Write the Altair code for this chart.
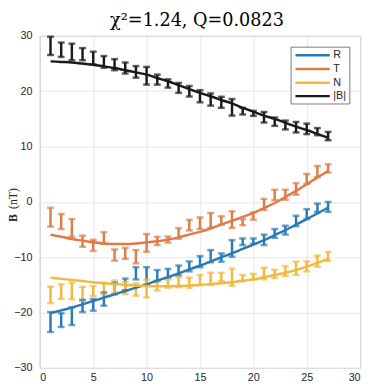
import altair as alt
import pandas as pd

x_pts = list(range(1, 28))

# measured values (centre) and half-widths of error bars
B_obs = [28.2, 27.5, 27.1, 26.7, 26.0, 25.3, 24.8, 24.2, 23.5, 22.8, 22.1, 21.4, 20.6, 20.0,
         19.1, 18.5, 18.0, 17.1, 16.4, 16.0, 15.3, 14.5, 13.9, 13.5, 13.2, 12.7, 11.9]
B_err = [1.65, 1.3, 1.5, 1.1, 1.15, 1.05, 1.0, 1.0, 1.05, 1.6, 0.9, 0.75, 0.9, 0.95,
         1.1, 1.1, 1.0, 1.5, 0.6, 0.45, 0.95, 0.75, 0.8, 0.95, 0.95, 0.65, 0.75]
T_obs = [-2.75, -3.55, -4.7, -7.1, -7.85, -6.5, -9.6, -9.3, -9.9, -7.4, -7.05, -6.8, -5.7, -4.2,
         -3.85, -3.35, -3.35, -3.2, -3.65, -2.55, -0.45, 1.25, 1.3, 2.35, 4.15, 5.5, 6.05]
T_err = [1.7, 1.35, 1.6, 1.0, 1.0, 1.05, 1.0, 1.0, 1.2, 1.6, 0.75, 0.55, 0.95, 0.95,
         1.05, 1.35, 0.75, 1.5, 0.55, 0.65, 1.0, 0.95, 0.9, 1.05, 0.9, 1.0, 0.75]
R_obs = [-21.7, -21.35, -20.65, -18.8, -18.6, -17.55, -15.65, -14.9, -12.9, -13.4, -13.3, -12.9, -12.4, -11.65,
         -10.8, -9.8, -10.05, -8.4, -7.2, -7.1, -6.85, -5.7, -5.1, -3.45, -2.2, -1.05, -0.9]
R_err = [1.8, 1.25, 1.6, 1.1, 1.05, 1.2, 1.05, 1.05, 1.1, 1.6, 1.0, 0.8, 0.9, 0.9,
         1.0, 1.1, 0.75, 1.5, 0.6, 0.5, 0.95, 0.8, 0.8, 0.95, 0.9, 0.75, 0.9]
N_obs = [-16.8, -16.2, -16.1, -16.6, -16.1, -15.65, -15.3, -15.55, -15.85, -15.65, -15.1, -14.75, -14.5, -14.6,
         -14.1, -13.9, -13.55, -13.6, -13.75, -13.5, -12.95, -13.0, -12.5, -12.0, -11.65, -10.7, -9.85]
N_err = [1.5, 1.3, 1.5, 1.25, 0.9, 1.05, 1.1, 1.1, 1.1, 1.6, 0.9, 0.75, 0.9, 0.9,
         0.9, 1.1, 0.75, 1.55, 0.55, 0.5, 1.05, 0.75, 0.9, 1.2, 0.9, 1.0, 0.8]

# fitted model curves read at each x
B_fit = [25.4, 25.3, 25.2, 25.0, 24.8, 24.5, 24.2, 23.8, 23.4, 23.0, 22.4, 21.8, 21.1, 20.4,
         19.7, 19.1, 18.4, 17.8, 17.0, 16.3, 15.6, 15.0, 14.3, 13.6, 13.0, 12.3, 11.6]
T_fit = [-5.9, -6.3, -6.7, -7.0, -7.3, -7.5, -7.6, -7.6, -7.5, -7.3, -7.1, -6.8, -6.4, -5.9,
         -5.4, -4.8, -4.1, -3.4, -2.7, -2.0, -1.1, -0.2, 0.9, 2.0, 3.2, 4.4, 5.6]
R_fit = [-20.1, -19.6, -19.1, -18.5, -17.9, -17.3, -16.7, -16.1, -15.5, -14.9, -14.2, -13.6, -12.9, -12.2,
         -11.5, -10.8, -10.0, -9.3, -8.5, -7.7, -6.9, -6.0, -5.1, -4.1, -3.1, -2.1, -1.0]
N_fit = [-13.7, -13.9, -14.1, -14.3, -14.5, -14.7, -14.85, -15.0, -15.1, -15.2, -15.25, -15.25, -15.2, -15.1,
         -15.0, -14.85, -14.7, -14.5, -14.25, -14.0, -13.6, -13.2, -12.8, -12.3, -11.7, -11.0, -10.3]

series_names = ["R", "T", "N", "|B|"]
series_colors = ["#2a7ab5", "#dc7c47", "#efb93f", "#1a1a1a"]
x_ticks = [0, 5, 10, 15, 20, 25, 30]
y_ticks = [-30, -20, -10, 0, 10, 20, 30]
title_text = "χ²=1.24,  Q=0.0823"

obs = {"R": (R_obs, R_err, R_fit), "T": (T_obs, T_err, T_fit),
       "N": (N_obs, N_err, N_fit), "|B|": (B_obs, B_err, B_fit)}

rows = []
for s in series_names:
    o, e, f = obs[s]
    for xi, oi, ei, fi in zip(x_pts, o, e, f):
        rows.append({"x": xi, "lo": oi - ei, "hi": oi + ei, "fit": fi, "series": s})
df = pd.DataFrame(rows)

font_sans = "Liberation Sans"
font_serif = "Liberation Serif"

xs = alt.Scale(domain=[0, 30], nice=False)
ys = alt.Scale(domain=[-30, 30], nice=False)
color = alt.Color("series:N",
                  scale=alt.Scale(domain=series_names, range=series_colors),
                  legend=None)

xaxis = alt.Axis(values=x_ticks, title=None, grid=True, gridColor="#e6e6e6", domain=False,
                 ticks=False, labelPadding=4, labelFont=font_sans, labelFontSize=11,
                 labelColor="#262626")
yaxis = alt.Axis(values=y_ticks, title=None, grid=True, gridColor="#e6e6e6", domain=False,
                 ticks=False, labelPadding=8, labelFont=font_sans, labelFontSize=11,
                 labelColor="#262626")

base = alt.Chart(df)

bars = base.mark_rule(strokeWidth=2.5).encode(
    x=alt.X("x:Q", scale=xs, axis=xaxis),
    y=alt.Y("lo:Q", scale=ys, axis=yaxis),
    y2="hi:Q",
    color=color,
)
cap_lo = base.mark_tick(orient="horizontal", size=7, thickness=2.5).encode(
    x=alt.X("x:Q", scale=xs), y=alt.Y("lo:Q", scale=ys), color=color)
cap_hi = base.mark_tick(orient="horizontal", size=7, thickness=2.5).encode(
    x=alt.X("x:Q", scale=xs), y=alt.Y("hi:Q", scale=ys), color=color)
fits = base.mark_line(strokeWidth=2.5, interpolate="monotone").encode(
    x=alt.X("x:Q", scale=xs), y=alt.Y("fit:Q", scale=ys), color=color,
    order="x:Q")

one = pd.DataFrame({"k": [0]})

# y-axis label: bold B, normal (nT)
ylab_b = alt.Chart(one).mark_text(
    angle=270, font=font_serif, fontSize=12, fontWeight="bold", color="#262626",
    align="center", baseline="middle", text="B").encode(
    x=alt.value(-27), y=alt.value(186))
ylab_u = alt.Chart(one).mark_text(
    angle=270, font=font_serif, fontSize=12, color="#262626",
    align="center", baseline="middle", text="(nT)").encode(
    x=alt.value(-27), y=alt.value(166))

# title
title = alt.Chart(one).mark_text(
    font="DejaVu Serif", fontSize=18, color="#000000", align="center",
    baseline="alphabetic", text=title_text).encode(
    x=alt.value(160.5), y=alt.value(-10.5))

# legend box (drawn)
leg_x0, leg_x1, leg_y0, leg_y1 = 256.5, 316.5, 11.5, 69.5
leg_rows = [19.8, 33.8, 47.8, 61.5]
legend_layers = [
    alt.Chart(one).mark_rect(fill="white", stroke="#7a7a7a", strokeWidth=1).encode(
        x=alt.value(leg_x0), x2=alt.value(leg_x1), y=alt.value(leg_y0), y2=alt.value(leg_y1))
]
for name, col, ry in zip(series_names, series_colors, leg_rows):
    legend_layers.append(
        alt.Chart(one).mark_rule(color=col, strokeWidth=2.5).encode(
            x=alt.value(261), x2=alt.value(296), y=alt.value(ry)))
    legend_layers.append(
        alt.Chart(one).mark_text(font=font_sans, fontSize=11, color="#262626",
                                 align="left", baseline="middle", text=name).encode(
            x=alt.value(299.5), y=alt.value(ry)))

chart = alt.layer(bars, cap_lo, cap_hi, fits, ylab_b, ylab_u, title, *legend_layers).properties(
    width=327, height=339,
    autosize=alt.AutoSizeParams(type="none"),
    padding={"left": 32.5, "top": 24.5, "right": 6, "bottom": 17},
).configure_view(stroke="#808080", strokeWidth=1)

chart.save("out.html", embed_options={"renderer": "svg", "actions": False})
